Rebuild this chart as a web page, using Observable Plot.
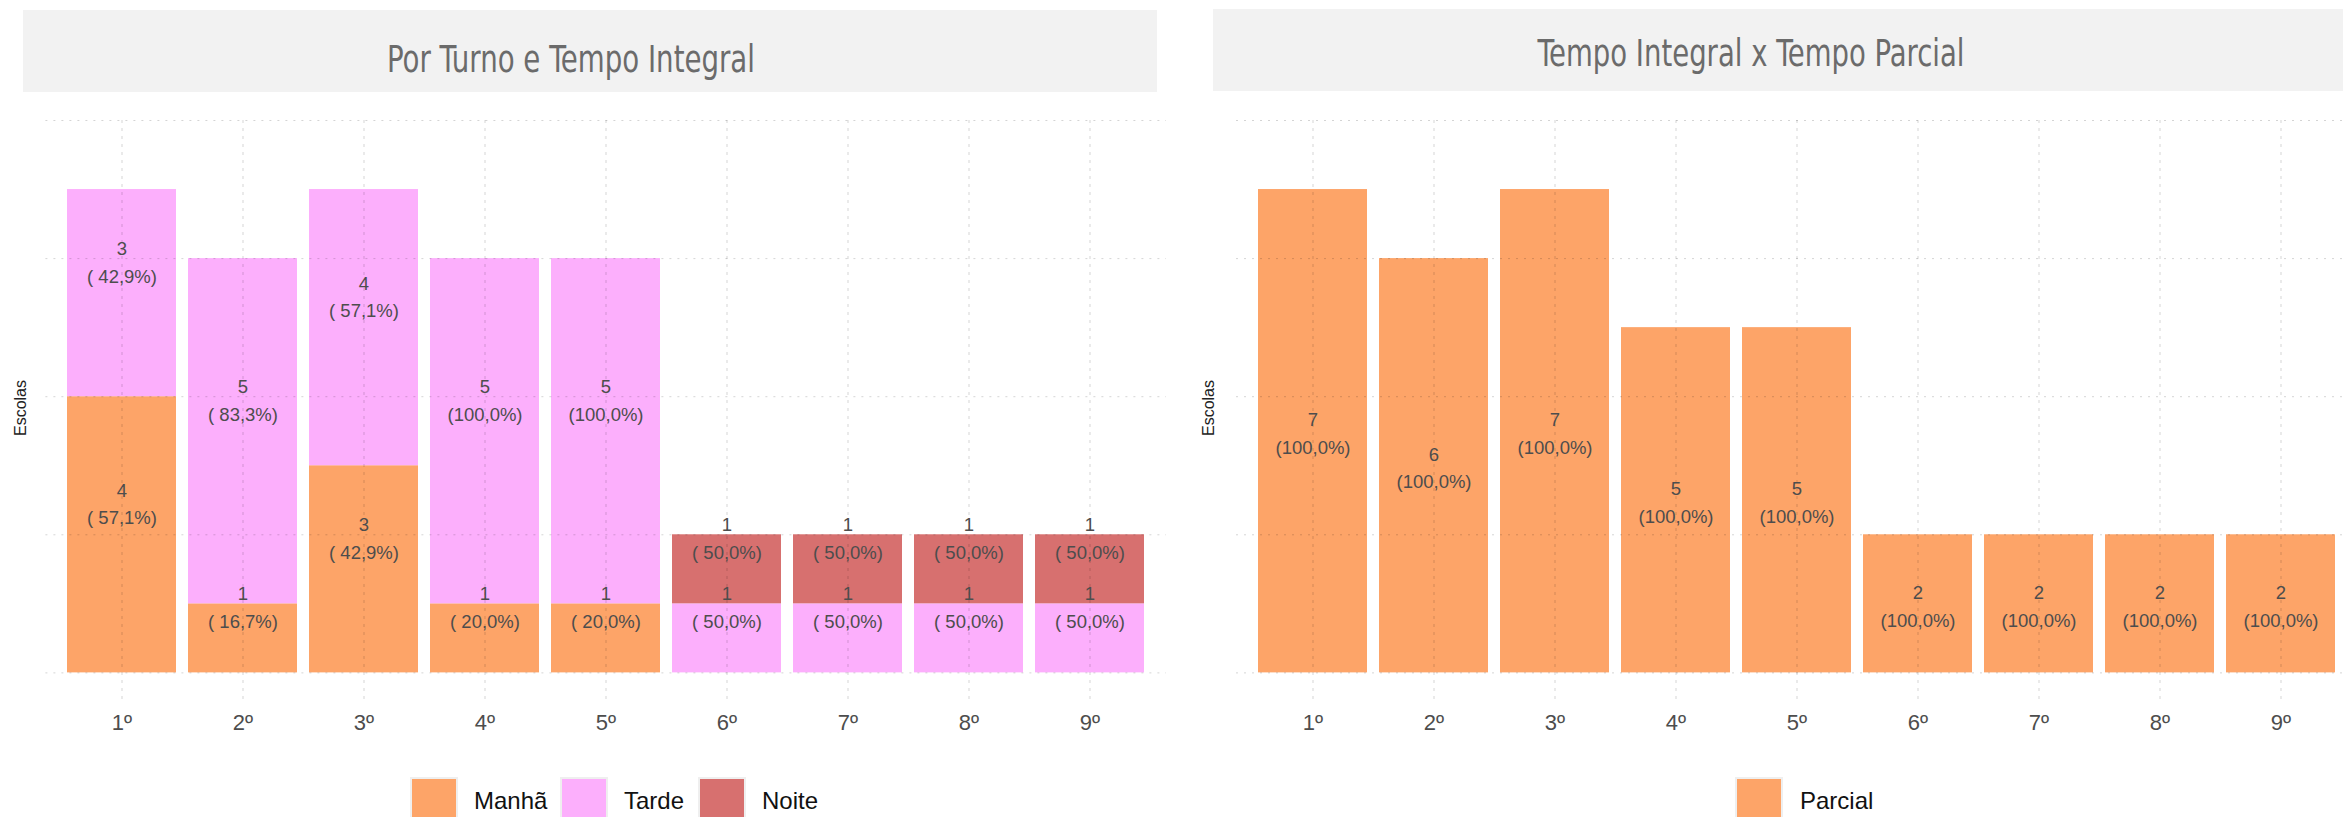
<!DOCTYPE html>
<html>
<head>
<meta charset="utf-8">
<script src="https://cdn.jsdelivr.net/npm/d3@7"></script>
<script src="https://cdn.jsdelivr.net/npm/@observablehq/plot@0.6"></script>
<style>
  html, body { margin: 0; padding: 0; background: #fff; overflow: hidden; }
  #root { position: relative; width: 2343px; height: 817px; overflow: hidden; font-family: "Liberation Sans", Arial, Helvetica, sans-serif; }
  .strip { position: absolute; background: #F2F2F2; }
  .ylab { position: absolute; font-size: 16px; color: #222; transform: translate(-50%, -50%) rotate(-90deg); white-space: nowrap; }
  .key { position: absolute; width: 44px; height: 44px; box-shadow: 0 0 0 2px #efefef; }
  .klab { position: absolute; font-size: 24px; line-height: 24px; color: #111; white-space: nowrap; }
</style>
</head>
<body>
<div id="root"></div>
<script>
// ---------- data ----------
const grades = ["1º", "2º", "3º", "4º", "5º", "6º", "7º", "8º", "9º"];
const turnos = ["Manhã", "Tarde", "Noite"];
const manha  = [4, 1, 3, 1, 1, 0, 0, 0, 0];
const tarde  = [3, 5, 4, 5, 5, 1, 1, 1, 1];
const noite  = [0, 0, 0, 0, 0, 1, 1, 1, 1];
// percentages as printed on the chart
const manhaPct = [57.1, 16.7, 42.9, 20.0, 20.0, 0, 0, 0, 0];
const tardePct = [42.9, 83.3, 57.1, 100.0, 100.0, 50.0, 50.0, 50.0, 50.0];
const noitePct = [0, 0, 0, 0, 0, 50.0, 50.0, 50.0, 50.0];
const tipos = ["Parcial"];
const parcial = [7, 6, 7, 5, 5, 2, 2, 2, 2];
const parcialPct = [100.0, 100.0, 100.0, 100.0, 100.0, 100.0, 100.0, 100.0, 100.0];
const yGrid = [0, 2, 4, 6, 8];
const titles = ["Por Turno e Tempo Integral", "Tempo Integral x Tempo Parcial"];

const turnoColors = ["#FDA468", "#FCAFFC", "#D7706F"];
const tipoColors = ["#FDA468"];

// ---------- helpers ----------
const fmtPct = p => "(" + p.toFixed(1).replace(".", ",").padStart(5, " ") + "%)";

function buildRows(seriesList, pctList, names) {
  const rows = [];
  grades.forEach((g, i) => {
    let base = 0;
    seriesList.forEach((s, k) => {
      const v = s[i];
      rows.push({grade: g, serie: names[k], n: v, y1: base, y2: base + v, pct: pctList[k][i]});
      base += v;
    });
  });
  return rows;
}

function panel(rows, names, colors, opts) {
  return Plot.plot({
    width: 1180,
    height: 760,
    marginTop: 120,
    marginBottom: 60,
    marginLeft: opts.ml,
    marginRight: opts.mr,
    style: {fontSize: "22px", color: "#4d4d4d", fontFamily: "'Liberation Sans', Arial, Helvetica, sans-serif", background: "transparent", overflow: "visible"},
    x: {type: "band", domain: grades, paddingInner: 0.1, paddingOuter: 0.15, tickSize: 0, tickPadding: 14, label: null},
    y: {domain: [-0.4, 8], axis: null},
    color: {domain: names, range: colors},
    marks: [
      Plot.barY(rows, {x: "grade", y1: "y1", y2: "y2", fill: "serie", insetLeft: 0, insetRight: 0}),
      Plot.ruleY(yGrid, {y: d => d, stroke: "#000", strokeOpacity: 0.17, strokeDasharray: "2,6"}),
      Plot.ruleX(grades, {x: d => d, stroke: "#000", strokeOpacity: 0.17, strokeDasharray: "3,5"}),
      Plot.text(rows.filter(d => d.n > 0), {
        x: "grade",
        y: d => (d.y1 + d.y2) / 2 + opts.labelShift,
        text: d => `${d.n}\n${fmtPct(d.pct)}`,
        fontSize: 18.5,
        lineHeight: 1.5,
        fill: "#4d4d4d"
      })
    ]
  });
}

// ---------- layout ----------
const root = document.getElementById("root");

function addStrip(left, top, width, height, title, cx, baseline, tlen) {
  const s = document.createElement("div");
  s.className = "strip";
  Object.assign(s.style, {left: left + "px", top: top + "px", width: width + "px", height: height + "px"});
  root.appendChild(s);
  const svg = d3.create("svg")
    .attr("width", 2343).attr("height", 120)
    .style("position", "absolute").style("left", "0px").style("top", "0px");
  svg.append("text")
    .attr("x", cx).attr("y", baseline)
    .attr("text-anchor", "middle")
    .attr("textLength", tlen).attr("lengthAdjust", "spacingAndGlyphs")
    .attr("fill", "#6b6b6b")
    .style("font-family", "'Liberation Sans Narrow', 'DejaVu Sans Condensed', Roboto, sans-serif")
    .style("font-size", "37px")
    .text(title);
  root.appendChild(svg.node());
}

function addYLabel(cx, cy) {
  const d = document.createElement("div");
  d.className = "ylab";
  d.textContent = "Escolas";
  Object.assign(d.style, {left: cx + "px", top: cy + "px"});
  root.appendChild(d);
}

function addLegend(items) {
  items.forEach(it => {
    const k = document.createElement("div");
    k.className = "key";
    Object.assign(k.style, {left: it.kx + "px", top: "779px", background: it.color});
    root.appendChild(k);
    const l = document.createElement("div");
    l.className = "klab";
    l.textContent = it.label;
    Object.assign(l.style, {left: it.lx + "px", top: "789px"});
    root.appendChild(l);
  });
}

// Left panel
const leftRows = buildRows([manha, tarde, noite], [manhaPct, tardePct, noitePct], turnos);
const leftSvg = panel(leftRows, turnos, turnoColors, {ml: 45.4, mr: 14, labelShift: 0.48});
leftSvg.style.position = "absolute"; leftSvg.style.left = "0px"; leftSvg.style.top = "0px";
root.appendChild(leftSvg);

// Right panel
const rightRows = buildRows([parcial], [parcialPct], tipos);
const rightSvg = panel(rightRows, tipos, tipoColors, {ml: 56, mr: 3.5, labelShift: 0});
rightSvg.style.position = "absolute"; rightSvg.style.left = "1180px"; rightSvg.style.top = "0px";
root.appendChild(rightSvg);

addStrip(23, 10, 1134, 82, titles[0], 571, 72, 368);
addStrip(1213, 9, 1140, 82, titles[1], 1751, 66, 427);

addYLabel(21, 408);
addYLabel(1209, 408);

addLegend([
  {kx: 412, lx: 474, label: turnos[0], color: turnoColors[0]},
  {kx: 562, lx: 624, label: turnos[1], color: turnoColors[1]},
  {kx: 700, lx: 762, label: turnos[2], color: turnoColors[2]},
  {kx: 1737, lx: 1800, label: tipos[0], color: tipoColors[0]}
]);
</script>
</body>
</html>
